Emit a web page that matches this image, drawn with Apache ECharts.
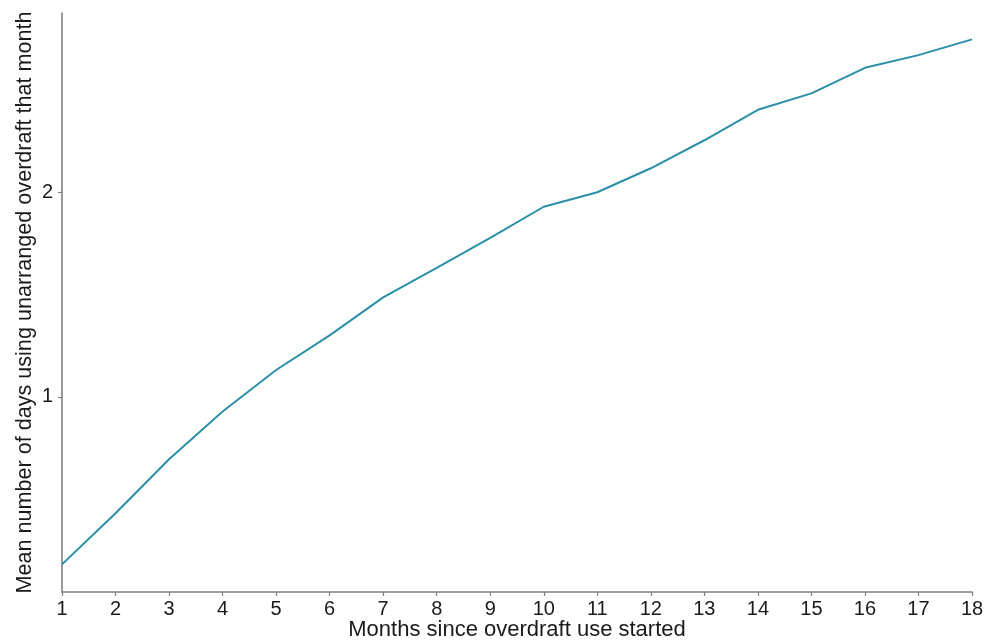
<!DOCTYPE html>
<html>
<head>
<meta charset="utf-8">
<script src="https://cdn.jsdelivr.net/npm/echarts@6/dist/echarts.min.js"></script>
<style>html,body{margin:0;padding:0;background:#fff;}#c{width:988px;height:643px;}</style>
</head>
<body>
<div id="c"></div>
<script>
const months = [1,2,3,4,5,6,7,8,9,10,11,12,13,14,15,16,17,18];
const meanDays = [0.181,0.431,0.695,0.928,1.131,1.30,1.486,1.63,1.777,1.929,2.0,2.117,2.254,2.403,2.483,2.608,2.67,2.747];
const yTicks = [1,2];
const xLabel = 'Months since overdraft use started';
const yLabel = 'Mean number of days using unarranged overdraft that month';

const chart = echarts.init(document.getElementById('c'));
const font = 'Liberation Sans, Arial, sans-serif';
chart.setOption({
  animation: false,
  grid: {left: 62, right: 16, top: 13, bottom: 51, outerBoundsMode: 'none', containLabel: false},
  xAxis: {
    type: 'value', min: 1, max: 18, interval: 1,
    name: xLabel, nameLocation: 'middle', nameGap: 27, nameMoveOverlap: false,
    nameTextStyle: {fontFamily: font, fontSize: 22, color: '#1a1a1a'},
    axisLine: {lineStyle: {color: '#808080', width: 1.6}},
    axisTick: {show: true, length: 4, lineStyle: {color: '#808080', width: 1.2}},
    axisLabel: {fontFamily: font, fontSize: 20, color: '#1a1a1a', margin: 7},
    splitLine: {show: false}
  },
  yAxis: {
    type: 'value', min: 0.046, max: 2.876,
    name: yLabel, nameLocation: 'middle', nameGap: 26, nameMoveOverlap: false,
    nameTextStyle: {fontFamily: font, fontSize: 21.6, color: '#1a1a1a'},
    axisLine: {show: true, lineStyle: {color: '#808080', width: 1.6}},
    axisTick: {show: true, length: 4, customValues: yTicks, lineStyle: {color: '#808080', width: 1.2}},
    axisLabel: {fontFamily: font, fontSize: 20, color: '#1a1a1a', margin: 9, customValues: yTicks},
    splitLine: {show: false}
  },
  series: [{
    type: 'line',
    data: months.map((m, i) => [m, meanDays[i]]),
    showSymbol: false,
    lineStyle: {color: '#2a8fa7', width: 2},
    clip: false
  }]
});
</script>
</body>
</html>
